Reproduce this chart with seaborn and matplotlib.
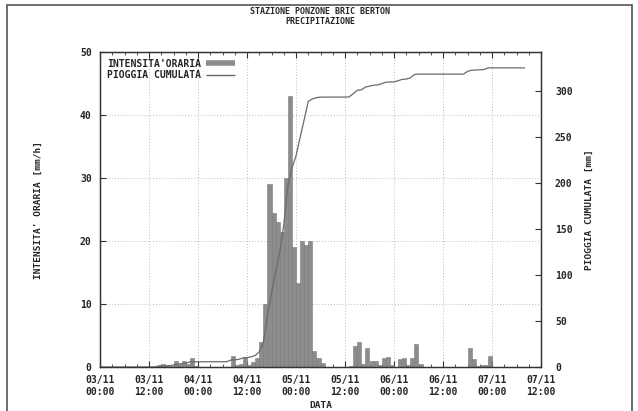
import numpy as np
import pandas as pd
import matplotlib
matplotlib.use("Agg")
import matplotlib.pyplot as plt
from matplotlib.lines import Line2D
from matplotlib.patches import Rectangle
from matplotlib.ticker import MultipleLocator
import seaborn as sns

# -- Data: hourly rain [mm/h], hour 0 = 03/11 00:00 ------------
rain_mm = [
    0, 0, 0, 0, 0, 0, 0, 0, 0, 0, 0, 0,                       # 03/11 00-11
    0, 0, 0.3, 0.4, 0.3, 0.2, 1.0, 0.5, 1.0, 0.4, 1.5, 0.1,   # 03/11 12-23
    0, 0, 0, 0, 0, 0, 0, 0, 1.8, 0.3, 0.5, 1.6,               # 04/11 00-11
    0.3, 0.8, 1.5, 4.0, 10.0, 29.0, 24.5, 23.0, 21.5, 30.0, 43.0, 19.0,  # 04/11 12-23
    13.3, 20.0, 19.4, 20.0, 2.6, 1.5, 0.6, 0, 0, 0, 0, 0,     # 05/11 00-11
    0, 0.2, 3.4, 3.9, 0.4, 3.0, 1.0, 1.0, 0.3, 1.4, 1.6, 0.3, # 05/11 12-23
    0, 1.3, 1.5, 0.3, 1.4, 3.6, 0.4, 0, 0, 0, 0, 0,           # 06/11 00-11
    0, 0, 0, 0, 0, 0, 3.0, 1.3, 0.1, 0.3, 0.3, 1.8,           # 06/11 12-23
    0, 0, 0, 0, 0, 0, 0, 0, 0,                                # 07/11 00-08
]
hours = np.arange(len(rain_mm))
cum_mm = np.cumsum(rain_mm)

tick_hours = [0, 12, 24, 36, 48, 60, 72, 84, 96, 108]
tick_labels = ["03/11\n00:00", "03/11\n12:00", "04/11\n00:00", "04/11\n12:00",
               "05/11\n00:00", "05/11\n12:00", "06/11\n00:00", "06/11\n12:00",
               "07/11\n00:00", "07/11\n12:00"]

df = pd.DataFrame({"ORA": hours + 0.5, "PIOGGIA": rain_mm})
df_line = pd.DataFrame({"ORA": hours, "CUMULATA": cum_mm})

# -- Style -------------------------------------------------------
sns.set_style("white")
plt.rcParams["font.family"] = ["DejaVu Sans Mono", "DejaVu Sans"]
plt.rcParams["font.weight"] = "bold"
FS = 7.0        # ticks, legend
FS_LAB = 6.8    # axis labels
FS_TIT = 6.0    # title
BAR_C = "#8c8c8c"
LINE_C = "#6a6a6a"
GRID_C = "#bdbdbd"

fig = plt.figure(figsize=(6.38, 4.11), dpi=100)
ax = fig.add_axes([100 / 638, 1 - 367 / 411, 441 / 638, 315 / 411])

# hourly intensity bars
sns.histplot(data=df, x="ORA", weights="PIOGGIA", binwidth=1,
             binrange=(0, len(rain_mm)), color=BAR_C, alpha=1.0,
             edgecolor="#7a7a7a", linewidth=0.4, ax=ax)
ax.set_xlim(0, 108)
ax.set_ylim(0, 50)
ax.set_xticks(tick_hours)
ax.set_xticklabels(tick_labels, fontsize=FS, fontweight="bold")
ax.xaxis.set_minor_locator(MultipleLocator(3))
ax.set_yticks([0, 10, 20, 30, 40, 50])
ax.set_yticklabels(["0", "10", "20", "30", "40", "50"], fontsize=FS, fontweight="bold")
ax.tick_params(axis="both", which="both", direction="in", top=True, bottom=True,
               left=True, right=False, color="#333333")
ax.tick_params(axis="both", which="major", length=4, width=0.8, pad=6)
ax.tick_params(axis="x", which="minor", length=2, width=0.6)
ax.grid(True, which="major", linestyle=(0, (1, 2)), color=GRID_C, linewidth=0.7)
ax.set_axisbelow(True)
ax.set_xlabel("DATA", fontsize=FS_LAB, fontweight="bold", labelpad=3)
ax.set_ylabel("INTENSITA' ORARIA [mm/h]", fontsize=FS_LAB, fontweight="bold",
              labelpad=27)
for s in ax.spines.values():
    s.set_color("#333333")
    s.set_linewidth(0.9)

# cumulative rain on the right axis
ax2 = ax.twinx()
sns.lineplot(data=df_line, x="ORA", y="CUMULATA", color=LINE_C, linewidth=0.9, ax=ax2)
ax2.set_ylim(0, 343)
ax2.set_xlim(0, 108)
ax2.set_yticks([0, 50, 100, 150, 200, 250, 300])
ax2.set_yticklabels(["0", "50", "100", "150", "200", "250", "300"], fontsize=FS,
                    fontweight="bold")
ax2.tick_params(axis="y", direction="in", length=4, width=0.8, pad=10, color="#333333")
ax2.set_ylabel("PIOGGIA CUMULATA [mm]", fontsize=FS_LAB, fontweight="bold", labelpad=9)
ax2.set_xlabel("")
for s in ax2.spines.values():
    s.set_color("#333333")
    s.set_linewidth(0.9)

# legend, gnuplot style (label then sample)
handles = [Line2D([0], [0], color=BAR_C, linewidth=4, solid_capstyle="butt"),
           Line2D([0], [0], color=LINE_C, linewidth=1, solid_capstyle="butt")]
leg = ax.legend(handles, ["INTENSITA'ORARIA", "PIOGGIA CUMULATA"], loc="upper left",
                frameon=False, markerfirst=False, fontsize=FS, handlelength=3.0,
                borderaxespad=0.3, labelspacing=0.15, handletextpad=0.5)
for t in leg.get_texts():
    t.set_fontweight("bold")

fig.text(320 / 638, 1 - 12 / 411, "STAZIONE PONZONE BRIC BERTON", ha="center",
         va="center", fontsize=FS_TIT, fontweight="bold")
fig.text(320 / 638, 1 - 22 / 411, "PRECIPITAZIONE", ha="center", va="center",
         fontsize=FS_TIT, fontweight="bold")

# outer frame around the picture
fig.patches.append(Rectangle((7 / 638, -0.02), 625 / 638, 1 - 5 / 411 + 0.02,
                             transform=fig.transFigure, fill=False,
                             edgecolor="#555555", linewidth=1.2))

fig.savefig("out.png", dpi=100)
plt.close(fig)
